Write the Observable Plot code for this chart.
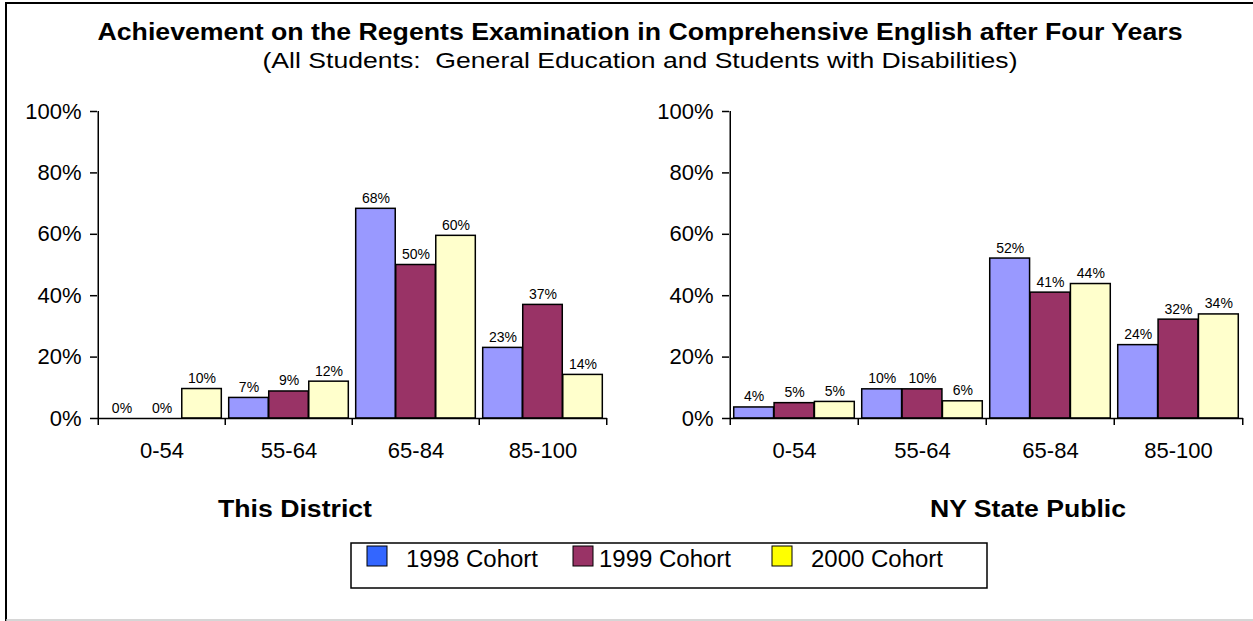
<!DOCTYPE html>
<html>
<head>
<meta charset="utf-8">
<script src="https://cdn.jsdelivr.net/npm/d3@7"></script>
<script src="https://cdn.jsdelivr.net/npm/@observablehq/plot@0.6"></script>
<style>
  html, body { margin: 0; padding: 0; background: #fff; }
  #chart { position: relative; width: 1253px; height: 621px; overflow: hidden; background: #fff;
           font-family: Arial, "Liberation Sans", sans-serif; }
  #chart > svg { position: absolute; }
</style>
</head>
<body>
<div id="chart"></div>
<script>
// ---------- data ----------
const categories = ["0-54", "55-64", "65-84", "85-100"];
const cohorts = ["1998 Cohort", "1999 Cohort", "2000 Cohort"];

const district1998 = [0, 6.7, 68.3, 23.0];
const district1999 = [0, 8.8, 50.0, 37.0];
const district2000 = [9.6, 12.0, 59.5, 14.2];

const state1998 = [3.6, 9.5, 52.1, 23.9];
const state1999 = [5.0, 9.5, 41.0, 32.2];
const state2000 = [5.4, 5.6, 43.8, 33.9];

const yTicks = [0, 20, 40, 60, 80, 100];
const barColors = ["#9999FF", "#993366", "#FFFFCC"];
const legendColors = ["#3366FF", "#993366", "#FFFF00"];
const panelTitles = ["This District", "NY State Public"];
const titleText = "Achievement on the Regents Examination in Comprehensive English after Four Years";
const subtitleText = "(All Students:  General Education and Students with Disabilities)";

// ---------- panels ----------
const FONT = "Arial, 'Liberation Sans', sans-serif";
const H = 470, MT = 111, MB = 52;

function panel(series, width, marginLeft, marginRight) {
  const inner = width - marginLeft - marginRight;
  const B = inner / categories.length;
  const bw = 0.314 * B;
  const pad = (B - 3 * bw) / 2;
  const rows = series.flatMap((vals, k) =>
    vals.map((v, i) => ({cat: categories[i], cohort: cohorts[k], k, value: v})));
  const marks = [];
  cohorts.forEach((c, k) => {
    const d = rows.filter(r => r.k === k);
    marks.push(Plot.barY(d, {
      x: "cat", y: "value", fill: barColors[k], stroke: "#000", strokeWidth: 1.5,
      insetLeft: pad + k * bw, insetRight: B - pad - (k + 1) * bw
    }));
    marks.push(Plot.text(d, {
      x: "cat", y: "value", text: r => Math.round(r.value) + "%",
      dx: (k - 1) * bw, dy: -6, lineAnchor: "bottom", fontSize: 14, fill: "#000"
    }));
  });
  marks.push(Plot.ruleY([0], {stroke: "#000", strokeWidth: 1.5}));
  marks.push(Plot.ruleX([categories[0]], {x: d => d, y1: 0, y2: 100, dx: -B / 2, stroke: "#000", strokeWidth: 1.5}));
  marks.push(Plot.ruleX(categories, {x: d => d, y1: 0, y2: 0, insetBottom: -7, dx: -B / 2, stroke: "#000", strokeWidth: 1.5}));
  marks.push(Plot.ruleX([categories[categories.length - 1]], {x: d => d, y1: 0, y2: 0, insetBottom: -7, dx: B / 2, stroke: "#000", strokeWidth: 1.5}));
  marks.push(Plot.axisY({ticks: yTicks, tickFormat: d => d + "%", tickSize: 7, tickPadding: 9, fontSize: 22, label: null, strokeWidth: 1.5}));
  marks.push(Plot.axisX({tickSize: 0, tickPadding: 24, fontSize: 22, label: null}));
  return Plot.plot({
    width, height: H, marginTop: MT, marginBottom: MB, marginLeft, marginRight,
    x: {domain: categories, padding: 0},
    y: {domain: [0, 100]},
    style: {fontFamily: FONT, fontSize: "22px", background: "none", color: "#000", overflow: "visible"},
    marks
  });
}

const chart = document.getElementById("chart");
const left = panel([district1998, district1999, district2000], 620, 97, 13);
left.style.left = "0px"; left.style.top = "0px";
chart.appendChild(left);
const right = panel([state1998, state1999, state2000], 633, 109, 10);
right.style.left = "620px"; right.style.top = "0px";
chart.appendChild(right);

// ---------- overlay: frame, titles, legend ----------
const svg = d3.create("svg").attr("width", 1253).attr("height", 621)
  .style("left", "0px").style("top", "0px").style("font-family", FONT);

svg.append("line").attr("x1", 5).attr("x2", 1253).attr("y1", 3).attr("y2", 3).attr("stroke", "#000").attr("stroke-width", 2);
svg.append("line").attr("x1", 6).attr("x2", 6).attr("y1", 3).attr("y2", 621).attr("stroke", "#000").attr("stroke-width", 2);
svg.append("line").attr("x1", 6).attr("x2", 1253).attr("y1", 620).attr("y2", 620).attr("stroke", "#c8c8c8").attr("stroke-width", 1.5);

svg.append("text").attr("x", 640).attr("y", 40).attr("text-anchor", "middle")
  .attr("font-size", 23.5).attr("font-weight", "bold")
  .attr("textLength", 1085).attr("lengthAdjust", "spacingAndGlyphs")
  .text(titleText);

svg.append("text").attr("x", 640).attr("y", 68).attr("text-anchor", "middle")
  .attr("font-size", 21.5).style("white-space", "pre")
  .attr("textLength", 755).attr("lengthAdjust", "spacingAndGlyphs")
  .text(subtitleText);

const panelTitleX = [295, 1028], panelTitleW = [154, 196];
panelTitles.forEach((t, i) => {
  svg.append("text").attr("x", panelTitleX[i]).attr("y", 517).attr("text-anchor", "middle")
    .attr("font-size", 23).attr("font-weight", "bold")
    .attr("textLength", panelTitleW[i]).attr("lengthAdjust", "spacingAndGlyphs")
    .text(t);
});

const lg = svg.append("g");
lg.append("rect").attr("x", 351).attr("y", 543).attr("width", 636).attr("height", 45)
  .attr("fill", "#fff").attr("stroke", "#000").attr("stroke-width", 1.5);
const swX = [367, 573, 772], txX = [406, 599, 811];
cohorts.forEach((c, k) => {
  lg.append("rect").attr("x", swX[k]).attr("y", 546).attr("width", 20).attr("height", 20)
    .attr("fill", legendColors[k]).attr("stroke", "#000").attr("stroke-width", 1);
  lg.append("text").attr("x", txX[k]).attr("y", 567).attr("font-size", 23)
    .attr("textLength", 132).attr("lengthAdjust", "spacingAndGlyphs").text(c);
});

chart.appendChild(svg.node());
</script>
</body>
</html>
